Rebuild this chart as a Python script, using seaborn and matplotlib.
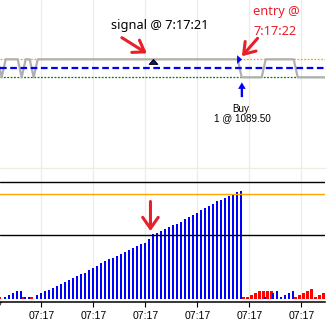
import matplotlib
matplotlib.use("Agg")
import matplotlib.pyplot as plt
import matplotlib.transforms as mtransforms
from matplotlib.markers import MarkerStyle
import numpy as np
import pandas as pd
import seaborn as sns

# ---------------- data ----------------
bar_index = list(range(82))
buy_count = [0, 1, 2, 3, 4, 4, 1, 1, 0, 2,
             3, 4, 4.5, 5.5, 7, 8, 9, 10, 11, 12,
             13, 14, 15.5, 16.5, 17.5, 19, 20, 21, 22, 23,
             24, 25, 26, 27, 28, 29, 30, 32, 34.5, 35,
             36, 37, 38.3, 39.2, 40.1, 41, 42.8, 43.7, 44.9, 46,
             47.2, 48.5, 49.4, 50.8, 52, 52.9, 54, 54.9, 56.1, 57.2,
             57.6, 0, 0, 0, 0, 0, 1, 0, 3, 4,
             1, 2, 3, 4, 0, 0, 0, 0, 0, 0,
             0, 0]
sell_count = [1, 0, 0, 0, 0, 0, 1, 0, 1, 0,
              0, 0, 0, 0, 0, 0, 0, 0, 0, 0,
              0, 0, 0, 0, 0, 0, 0, 0, 0, 0,
              0, 0, 0, 0, 0, 0, 0, 0, 0, 0,
              0, 0, 0, 0, 0, 0, 0, 0, 0, 0,
              0, 0, 0, 0, 0, 0, 0, 0, 0, 0,
              0, 1, 1, 2, 3, 4, 4, 4, 4, 0,
              0, 0, 0, 0, 1, 2, 3, 4, 5, 1,
              2, 3]
price_index = list(range(-1, 83))
price = [1089.50, 1089.25, 1089.50, 1089.50, 1089.50, 1089.50, 1089.25, 1089.50, 1089.50, 1089.25,
         1089.50, 1089.50, 1089.50, 1089.50, 1089.50, 1089.50, 1089.50, 1089.50, 1089.50, 1089.50,
         1089.50, 1089.50, 1089.50, 1089.50, 1089.50, 1089.50, 1089.50, 1089.50, 1089.50, 1089.50,
         1089.50, 1089.50, 1089.50, 1089.50, 1089.50, 1089.50, 1089.50, 1089.50, 1089.50, 1089.50,
         1089.50, 1089.50, 1089.50, 1089.50, 1089.50, 1089.50, 1089.50, 1089.50, 1089.50, 1089.50,
         1089.50, 1089.50, 1089.50, 1089.50, 1089.50, 1089.50, 1089.50, 1089.50, 1089.50, 1089.50,
         1089.50, 1089.25, 1089.25, 1089.25, 1089.25, 1089.25, 1089.25, 1089.50, 1089.50, 1089.50,
         1089.50, 1089.50, 1089.50, 1089.50, 1089.50, 1089.25, 1089.25, 1089.25, 1089.25, 1089.25,
         1089.25, 1089.25, 1089.25, 1089.25]
ask_price = 1089.50
bid_price = 1089.25
avg_price = 1089.375
fill_price = 1089.50
fill_qty = 1
signal_bar = 38.1
entry_bar = 59.6
signal_time = "7:17:21"
entry_time = "7:17:22"
upper_level = 62.2
entry_level = 56.1
signal_level = 33.9
tick_index = [10.15, 23.15, 36.15, 49.15, 62.15, 75.15]
tick_labels = ["07:17", "07:17", "07:17", "07:17", "07:17", "07:17"]
offscreen_tick = -2.85

# ---------------- style ----------------
sns.set_style("white")
plt.rcParams['font.family'] = ['Liberation Sans', 'DejaVu Sans']
RED = "#E8202A"
GRID = "#EFECE2"

W, H = 332, 328
fig = plt.figure(figsize=(W / 100, H / 100), dpi=100)
ax1 = fig.add_axes([0, 1 - 168.3 / H, 325 / W, 168.3 / H])
ax2 = fig.add_axes([0, 1 - 302 / H, 325 / W, (302 - 168.3) / H])

def off(ax, dx, dy):
    return mtransforms.offset_copy(ax.transData, fig=fig, x=dx, y=dy, units='points')

# ---------------- top panel ----------------
ax1.axhline(ask_price, color="#FFA500", lw=0.9, ls=(0, (1.5, 1.2)), zorder=1)
ax1.axhline(bid_price, color="#008000", lw=0.9, ls=(0, (1.5, 1.2)), zorder=1)
sns.lineplot(x=np.array(price_index) + 0.25, y=price, color="#B0B0B0", lw=1.6, ax=ax1, zorder=2)
ax1.axhline(avg_price, color="#0000FF", lw=1.6, ls=(0, (3, 1.6)), zorder=3)

sig_marker = MarkerStyle([(0, 0), (-1, -1.13), (1, -1.13), (0, 0)])
ax1.scatter([signal_bar], [ask_price], marker=sig_marker, s=7.0 ** 2,
            facecolor="#14148C", edgecolor="black", lw=0.7, zorder=5)
ent_marker = MarkerStyle([(-0.3, -0.5), (-0.3, 0.5), (0.3, 0), (-0.3, -0.5)])
ax1.scatter([entry_bar], [ask_price], marker=ent_marker, s=5.5 ** 2,
            facecolor="#0000FF", edgecolor="#0000FF", lw=0.3, zorder=5)

ax1.text(signal_bar, ask_price, f"signal @ {signal_time}", transform=off(ax1, -30.2, 21.6),
         ha="left", va="baseline", fontsize=9.2, family=["Noto Sans", "DejaVu Sans"], color="black")
ax1.text(entry_bar, ask_price, "entry @", transform=off(ax1, 10.2, 31.7),
         ha="left", va="baseline", fontsize=9.2, family=["Noto Sans", "DejaVu Sans"], color=RED)
ax1.text(entry_bar, ask_price, entry_time, transform=off(ax1, 10.2, 17.8),
         ha="left", va="baseline", fontsize=9.2, family=["Noto Sans", "DejaVu Sans"], color=RED)

arrow_red = dict(arrowstyle="->,head_length=0.38,head_width=0.26", color=RED, lw=2.2,
                 shrinkA=0, shrinkB=0, mutation_scale=20, capstyle="round", joinstyle="round")
ax1.annotate("", xy=(signal_bar, ask_price), xycoords=off(ax1, -4.5, 4.3),
             xytext=(signal_bar, ask_price), textcoords=off(ax1, -22.5, 15.6),
             arrowprops=arrow_red)
ax1.annotate("", xy=(entry_bar, ask_price), xycoords=off(ax1, 2.0, 2.2),
             xytext=(entry_bar, ask_price), textcoords=off(ax1, 13.3, 15.1),
             arrowprops=arrow_red)

ax1.annotate("", xy=(entry_bar, ask_price), xycoords=off(ax1, 2.0, -16.6),
             xytext=(entry_bar, ask_price), textcoords=off(ax1, 2.0, -27.2),
             arrowprops=dict(arrowstyle="simple,head_length=0.36,head_width=0.42,tail_width=0.13",
                             color="#0000FF", mutation_scale=13, shrinkA=0, shrinkB=0, lw=0))
ax1.text(entry_bar, ask_price, "Buy", transform=off(ax1, 1.5, -37.7),
         ha="center", va="baseline", fontsize=7.1, color="black")
ax1.text(entry_bar, ask_price, f"{fill_qty} @ {fill_price:.2f}", transform=off(ax1, 2.5, -44.6),
         ha="center", va="baseline", fontsize=7.1, color="black")

# ---------------- bottom panel ----------------
sns.barplot(x=np.array(bar_index) - 0.25, y=sell_count, native_scale=True, width=0.8,
            color="#FF0000", saturation=1, errorbar=None, linewidth=0, ax=ax2, zorder=2)
sns.barplot(x=np.array(bar_index, dtype=float), y=buy_count, native_scale=True, width=0.56,
            color="#0000FF", saturation=1, errorbar=None, linewidth=0, ax=ax2, zorder=3)
ax2.axhline(upper_level, color="black", lw=1.0, zorder=4)
ax2.axhline(entry_level, color="#FFA500", lw=1.0, zorder=4)
ax2.axhline(signal_level, color="black", lw=1.0, zorder=4)

sig_val = buy_count[int(round(signal_bar))]
ax2.annotate("", xy=(signal_bar, sig_val), xycoords=off(ax2, -1.9, 2.2),
             xytext=(signal_bar, sig_val), textcoords=off(ax2, -1.9, 23.5),
             arrowprops=dict(arrowstyle="->,head_length=0.4,head_width=0.28", color=RED, lw=2.2,
                             shrinkA=0, shrinkB=0, mutation_scale=20, capstyle="round", joinstyle="round"))

# ---------------- axes ----------------
xlim = (-0.175, 81.075)
for ax in (ax1, ax2):
    ax.set_xlim(*xlim)
    ax.set_xticks(tick_index)
    ax.grid(axis="x", color=GRID, lw=0.9)
    ax.grid(axis="y", visible=False)
    ax.set_xlabel("")
    ax.set_ylabel("")
    ax.set_yticks([])
    ax.set_facecolor("white")
    for s in ax.spines.values():
        s.set_visible(False)
    ax.set_axisbelow(True)

ax1.set_ylim(1087.986, 1090.324)
ax1.tick_params(axis="x", length=0, labelbottom=False)
ax2.set_ylim(-1.76, 69.7)
ax2.spines["bottom"].set_visible(True)
ax2.spines["bottom"].set_color("black")
ax2.spines["bottom"].set_linewidth(1.1)
ax2.spines["top"].set_visible(True)
ax2.spines["top"].set_color(GRID)
ax2.spines["top"].set_linewidth(0.9)
ax2.set_xticklabels(tick_labels)
ax2.tick_params(axis="x", length=3.3, width=0.8, color="black", pad=3.0,
                labelsize=7.6, labelcolor="black", bottom=True)
ax2.text(offscreen_tick, 0, "07:17", transform=mtransforms.blended_transform_factory(ax2.transData, ax2.transAxes),
         ha="center", va="top", fontsize=7.6, color="black")

fig.savefig("out.png", dpi=100, facecolor="white")
